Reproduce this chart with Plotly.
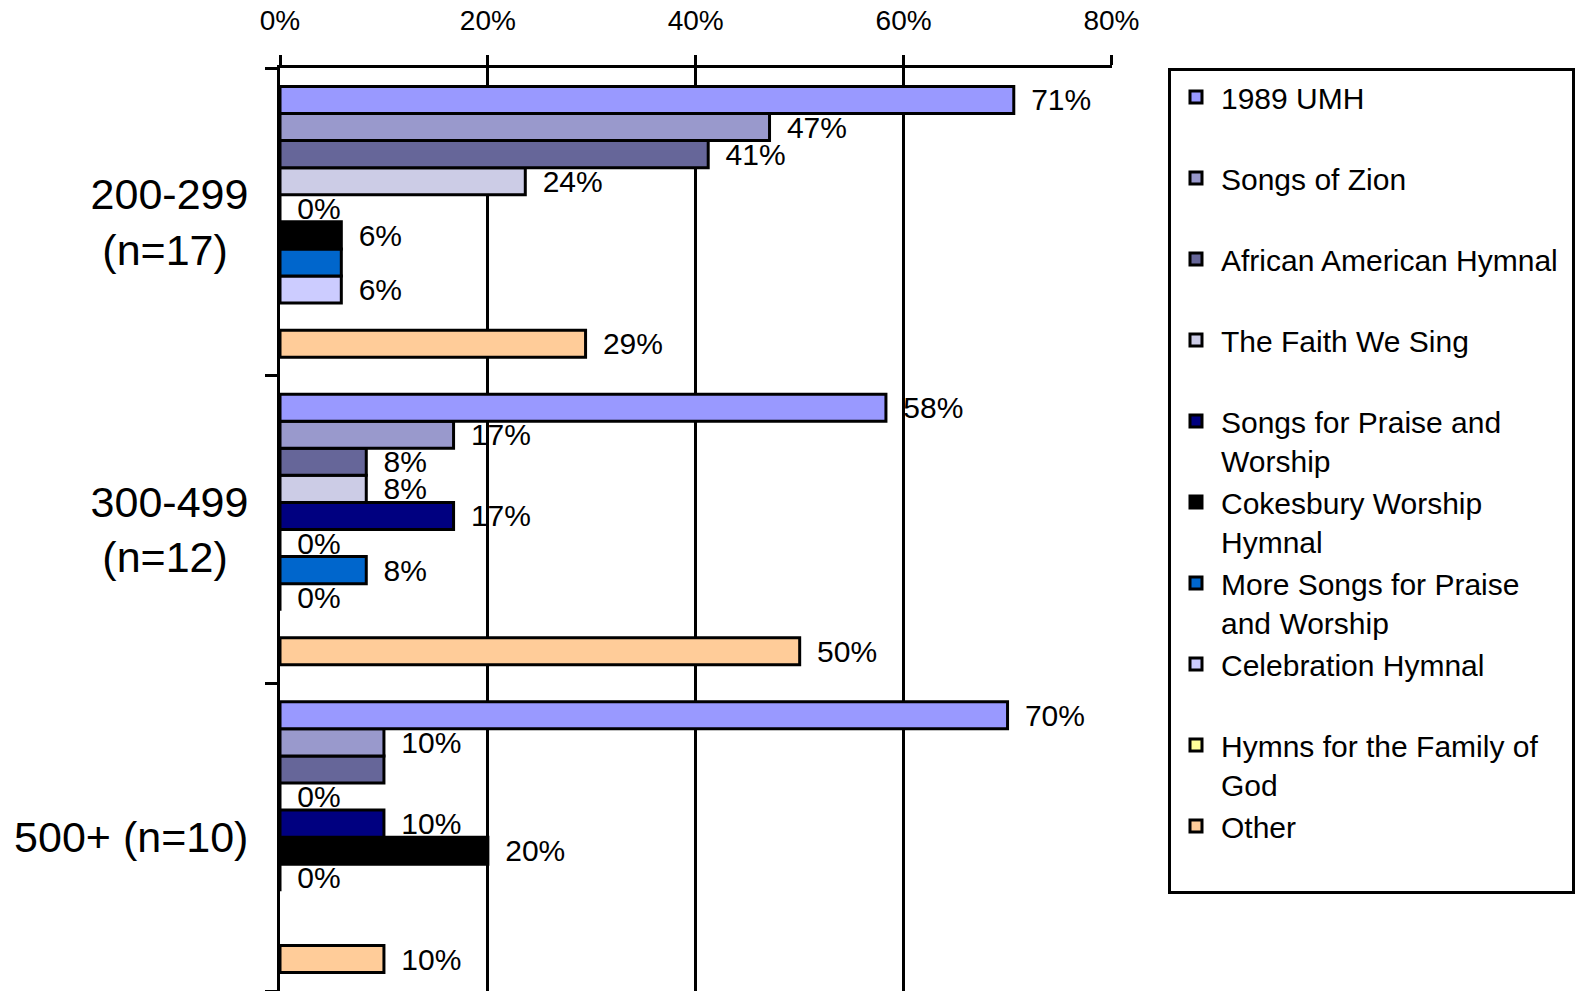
import plotly.graph_objects as go

# ---- data ----
groups = ["200-299<br>(n=17)", "300-499<br>(n=12)", "500+ (n=10)"]

series_names = [
    "1989 UMH",
    "Songs of Zion",
    "African American Hymnal",
    "The Faith We Sing",
    "Songs for Praise and<br>Worship",
    "Cokesbury Worship<br>Hymnal",
    "More Songs for Praise<br>and Worship",
    "Celebration Hymnal",
    "Hymns for the Family of<br>God",
    "Other",
]

# values per series across groups [200-299, 300-499, 500+]
umh        = [0.706, 0.583, 0.70]
zion       = [0.471, 0.167, 0.10]
african    = [0.412, 0.083, 0.10]
faith      = [0.236, 0.083, 0.00]
praise     = [0.00, 0.167, 0.10]
cokesbury  = [0.059, 0.00, 0.20]
more_songs = [0.059, 0.083, 0.00]
celebration = [0.059, 0.00, None]
family     = [None, None, None]
other      = [0.294, 0.50, 0.10]

series_values = [umh, zion, african, faith, praise, cokesbury,
                 more_songs, celebration, family, other]

# which data labels are shown per series per group
label_shown = [
    [True, True, True],
    [True, True, True],
    [True, True, False],
    [True, True, True],
    [True, True, True],
    [True, True, True],
    [False, True, True],
    [True, True, False],
    [False, False, False],
    [True, True, True],
]

colors = ["#9999FF", "#9999CC", "#666699", "#CCCCE6", "#000080",
          "#000000", "#0066CC", "#CCCCFF", "#FFFF99", "#FFCC99"]

x_ticks = [0, 0.2, 0.4, 0.6, 0.8]

# display labels for categories (2nd line padded so it sits centred)
group_display = [g.replace("(n=17)", "(n=17)\u00a0\u2009").replace("(n=12)", "(n=12)\u00a0\u2009")
                 for g in groups]

FONT = "Liberation Sans, Arial, sans-serif"

fig = go.Figure()
# add in reverse so the first series ends up on top of each group
for i in reversed(range(len(series_names))):
    name = series_names[i]
    if "<br>" in name:
        legend_name = name
    else:
        legend_name = name + ("\u00a0" if i == 2 else "") + "<br>\u00a0"
    tmpl = ["\u00a0\u2009%{x:.0%}" if s else "" for s in label_shown[i]]
    fig.add_trace(go.Bar(
        y=group_display,
        x=series_values[i],
        name=legend_name,
        legendgroup=str(i),
        legendrank=i + 1,
        orientation="h",
        marker=dict(color=colors[i], line=dict(color="black", width=3)),
        texttemplate=tmpl,
        textposition="outside",
        constraintext="none",
        cliponaxis=False,
        textfont=dict(family=FONT, size=30, color="black"),
        hoverinfo="skip",
    ))

fig.update_layout(
    width=1578, height=983,
    margin=dict(l=272, r=474, t=60, b=0),
    paper_bgcolor="white", plot_bgcolor="white",
    barmode="group", bargap=0.12, bargroupgap=0,
    font=dict(family=FONT, color="black"),
    showlegend=True,
    legend=dict(
        x=1.0673, xanchor="left", y=1.0, yanchor="top",
        bordercolor="black", borderwidth=3, bgcolor="white",
        font=dict(family=FONT, size=30, color="black"),
        traceorder="grouped", tracegroupgap=0,
        valign="top", itemwidth=40,
    ),
    xaxis=dict(
        side="top", range=[0, 0.8005], tickvals=x_ticks, tickformat=".0%",
        automargin=False,
        showgrid=True, gridcolor="black", gridwidth=3, zeroline=False,
        showline=True, linecolor="black", linewidth=3,
        ticks="outside", ticklen=10, tickwidth=3, tickcolor="black",
        tickfont=dict(family=FONT, size=28, color="black"),
        ticklabelstandoff=14,
    ),
    yaxis=dict(
        type="category", categoryorder="array", categoryarray=group_display[::-1],
        automargin=False,
        showgrid=False, zeroline=False,
        showline=True, linecolor="black", linewidth=3,
        ticks="outside", tickson="boundaries", ticklen=12, tickwidth=3, tickcolor="black",
        tickfont=dict(family=FONT, size=43, color="black"),
        ticklabelstandoff=20,
    ),
)

fig.write_html("out.html")
